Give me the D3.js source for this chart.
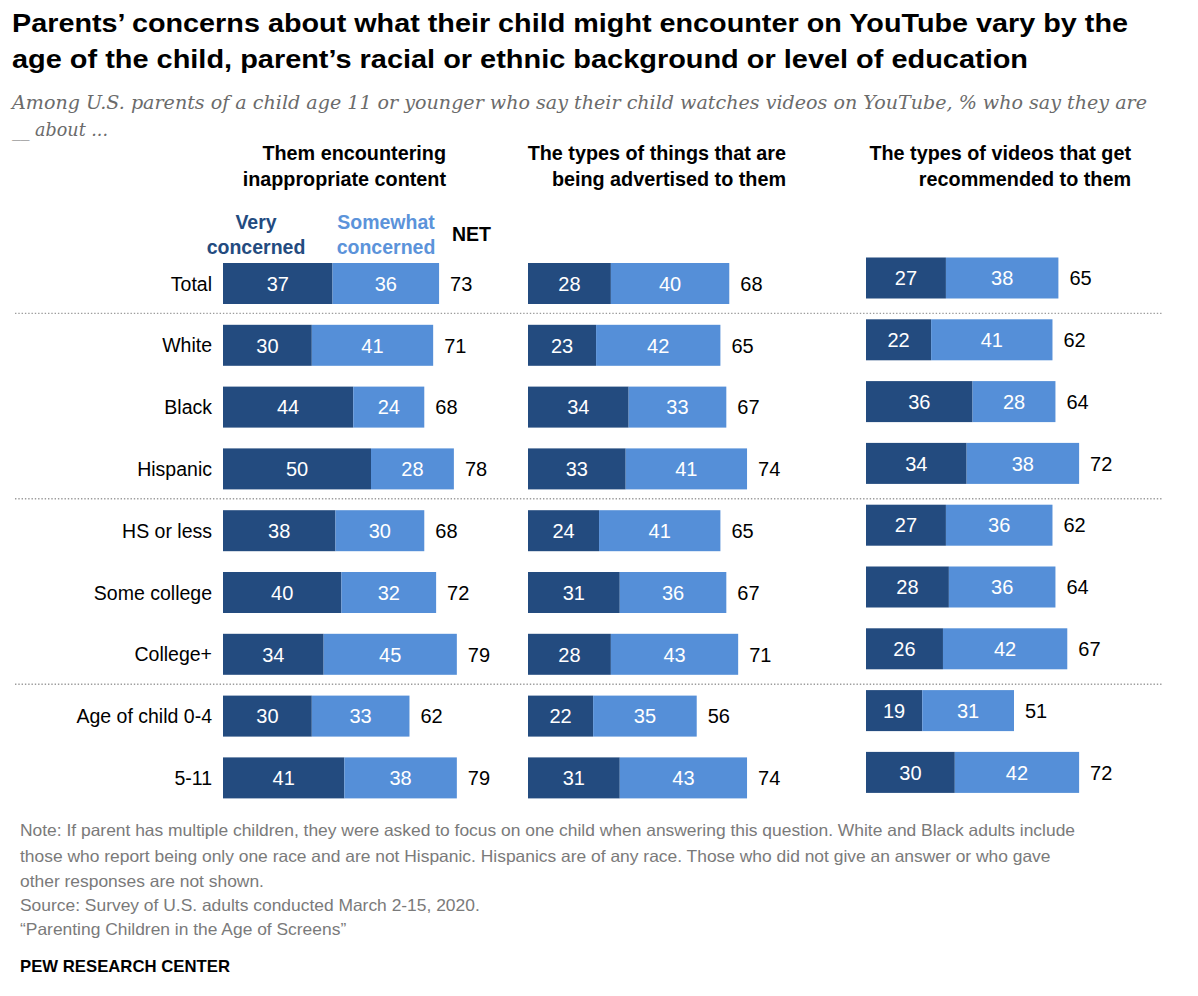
<!DOCTYPE html>
<html>
<head>
<meta charset="utf-8">
<script src="https://cdn.jsdelivr.net/npm/d3@7"></script>
<style>
  html, body { margin: 0; padding: 0; background: #fff; }
  svg { display: block; }
</style>
</head>
<body>
<div id="chart"></div>
<script>
// ---------------- DATA ----------------
const categories = ["Total", "White", "Black", "Hispanic", "HS or less", "Some college", "College+", "Age of child 0-4", "5-11"];
const separatorsAfter = ["Total", "Hispanic", "College+"];

const inappropriateVery = [37, 30, 44, 50, 38, 40, 34, 30, 41];
const inappropriateSome = [36, 41, 24, 28, 30, 32, 45, 33, 38];
const inappropriateNet  = [73, 71, 68, 78, 68, 72, 79, 62, 79];

const advertisedVery = [28, 23, 34, 33, 24, 31, 28, 22, 31];
const advertisedSome = [40, 42, 33, 41, 41, 36, 43, 35, 43];
const advertisedNet  = [68, 65, 67, 74, 65, 67, 71, 56, 74];

const recommendedVery = [27, 22, 36, 34, 27, 28, 26, 19, 30];
const recommendedSome = [38, 41, 28, 38, 36, 36, 42, 31, 42];
const recommendedNet  = [65, 62, 64, 72, 62, 64, 67, 51, 72];

const panelTitles = [
  ["Them encountering", "inappropriate content"],
  ["The types of things that are", "being advertised to them"],
  ["The types of videos that get", "recommended to them"]
];
const legendLabels = [["Very", "concerned"], ["Somewhat", "concerned"], ["NET"]];

const titleLines = [
  "Parents\u2019 concerns about what their child might encounter on YouTube vary by the",
  "age of the child, parent\u2019s racial or ethnic background or level of education"
];
const subtitleLines = [
  "Among U.S. parents of a child age 11 or younger who say their child watches videos on YouTube, % who say they are",
  "__ about ..."
];
const noteLines = [
  "Note: If parent has multiple children, they were asked to focus on one child when answering this question. White and Black adults include",
  "those who report being only one race and are not Hispanic. Hispanics are of any race. Those who did not give an answer or who gave",
  "other responses are not shown.",
  "Source: Survey of U.S. adults conducted March 2-15, 2020.",
  "\u201cParenting Children in the Age of Screens\u201d"
];
const sourceLabel = "PEW RESEARCH CENTER";

// ---------------- STYLE ----------------
const W = 1198, H = 996;
const DARK = "#234b7f", LIGHT = "#558fd8", LIGHT_TEXT = "#5b93da";
const SANS = "'Liberation Sans', Arial, Helvetica, sans-serif";
const SERIF = "Georgia, 'DejaVu Serif', 'Liberation Serif', serif";

const svg = d3.select("#chart").append("svg")
  .attr("width", W).attr("height", H)
  .attr("viewBox", `0 0 ${W} ${H}`);
svg.append("rect").attr("width", W).attr("height", H).attr("fill", "#fff");

function fit(sel, width) {
  sel.attr("textLength", width).attr("lengthAdjust", "spacingAndGlyphs");
}

// ---------------- TITLE ----------------
const titleWidths = [1116, 1016];
titleLines.forEach((t, i) => {
  const tx = svg.append("text")
    .attr("x", 12).attr("y", 32 + i * 36)
    .attr("font-family", SANS).attr("font-weight", "bold")
    .attr("font-size", 26).attr("fill", "#000")
    .text(t);
  fit(tx, titleWidths[i]);
});

// subtitle
subtitleLines.forEach((t, i) => {
  const tx = svg.append("text")
    .attr("x", 12).attr("y", 109 + i * 27)
    .attr("font-family", SERIF).attr("font-style", "italic")
    .attr("font-size", 19).attr("fill", "#6b6b6b")
    .text(t);
  if (i === 0) fit(tx, 1135);
  else fit(tx, 96);
});

// ---------------- SCALES ----------------
const x = d3.scaleLinear().domain([0, 100]).range([0, 296]);
const step = 61.8, bandH = 41;
const pad = 1 - bandH / step;
const yMain = d3.scaleBand().domain(categories)
  .range([263, 263 + step * (categories.length - pad)])
  .paddingInner(pad).paddingOuter(0);
const yRight = d3.scaleBand().domain(categories)
  .range([257.5, 257.5 + step * (categories.length - pad)])
  .paddingInner(pad).paddingOuter(0);

const panels = [
  { x0: 223, titleRight: 446, very: inappropriateVery, some: inappropriateSome, net: inappropriateNet, y: yMain },
  { x0: 528, titleRight: 786, very: advertisedVery, some: advertisedSome, net: advertisedNet, y: yMain },
  { x0: 866, titleRight: 1131, very: recommendedVery, some: recommendedSome, net: recommendedNet, y: yRight }
];

// separators
separatorsAfter.forEach(c => {
  const i = categories.indexOf(c);
  const yy = (yMain(categories[i]) + bandH + yMain(categories[i + 1])) / 2 - 1;
  svg.append("line")
    .attr("x1", 15).attr("x2", 1162)
    .attr("y1", yy).attr("y2", yy)
    .attr("stroke", "#9c9c9c").attr("stroke-width", 1.4)
    .attr("stroke-dasharray", "1.4,1.9");
});

// row labels
svg.append("g").selectAll("text").data(categories).join("text")
  .attr("x", 212)
  .attr("y", d => yMain(d) + bandH / 2)
  .attr("dy", "0.36em")
  .attr("text-anchor", "end")
  .attr("font-family", SANS).attr("font-size", 19.5).attr("fill", "#000")
  .text(d => d);

// panels
panels.forEach((p, pi) => {
  const g = svg.append("g").attr("transform", `translate(${p.x0},0)`);
  const rows = categories.map((c, i) => ({ c, very: p.very[i], some: p.some[i], net: p.net[i] }));

  // title
  panelTitles[pi].forEach((t, li) => {
    svg.append("text")
      .attr("x", p.titleRight).attr("y", 160 + li * 26)
      .attr("text-anchor", "end")
      .attr("font-family", SANS).attr("font-weight", "bold")
      .attr("font-size", 19.8).attr("fill", "#000")
      .text(t);
  });

  g.selectAll("rect.very").data(rows).join("rect")
    .attr("class", "very")
    .attr("x", x(0)).attr("y", d => p.y(d.c))
    .attr("width", d => x(d.very)).attr("height", p.y.bandwidth())
    .attr("fill", DARK);
  g.selectAll("rect.some").data(rows).join("rect")
    .attr("class", "some")
    .attr("x", d => x(d.very)).attr("y", d => p.y(d.c))
    .attr("width", d => x(d.some)).attr("height", p.y.bandwidth())
    .attr("fill", LIGHT);

  g.selectAll("text.vl").data(rows).join("text")
    .attr("class", "vl")
    .attr("x", d => x(d.very / 2)).attr("y", d => p.y(d.c) + bandH / 2)
    .attr("dy", "0.36em").attr("text-anchor", "middle")
    .attr("font-family", SANS).attr("font-size", 20).attr("fill", "#fff")
    .text(d => d.very);
  g.selectAll("text.sl").data(rows).join("text")
    .attr("class", "sl")
    .attr("x", d => x(d.very + d.some / 2)).attr("y", d => p.y(d.c) + bandH / 2)
    .attr("dy", "0.36em").attr("text-anchor", "middle")
    .attr("font-family", SANS).attr("font-size", 20).attr("fill", "#fff")
    .text(d => d.some);
  g.selectAll("text.nl").data(rows).join("text")
    .attr("class", "nl")
    .attr("x", d => x(d.very + d.some) + 11).attr("y", d => p.y(d.c) + bandH / 2)
    .attr("dy", "0.36em").attr("text-anchor", "start")
    .attr("font-family", SANS).attr("font-size", 20).attr("fill", "#000")
    .text(d => d.net);
});

// legend (first panel)
const legendSpecs = [
  { lines: legendLabels[0], cx: 256, anchor: "middle", color: DARK, y0: 229 },
  { lines: legendLabels[1], cx: 386, anchor: "middle", color: LIGHT_TEXT, y0: 229 },
  { lines: legendLabels[2], cx: 452, anchor: "start", color: "#000", y0: 241 }
];
legendSpecs.forEach(s => {
  s.lines.forEach((t, i) => {
    svg.append("text")
      .attr("x", s.cx).attr("y", s.y0 + i * 25)
      .attr("text-anchor", s.anchor)
      .attr("font-family", SANS).attr("font-weight", "bold")
      .attr("font-size", 19.5).attr("fill", s.color)
      .text(t);
  });
});

// ---------------- NOTES ----------------
const noteG = svg.append("g");
const noteTexts = noteLines.map((t, i) => noteG.append("text")
  .attr("x", 20).attr("y", 836 + [0, 26, 51, 75, 99][i])
  .attr("font-family", SANS).attr("font-size", 16.5).attr("fill", "#7a7a7a")
  .text(t));
const nat0 = noteTexts[0].node().getComputedTextLength();
const ratio = 1055 / nat0;
noteTexts.forEach(tx => {
  const w = tx.node().getComputedTextLength();
  fit(tx, w * ratio);
});

const pew = svg.append("text")
  .attr("x", 20).attr("y", 972)
  .attr("font-family", SANS).attr("font-weight", "bold")
  .attr("font-size", 17).attr("fill", "#000")
  .text(sourceLabel);
fit(pew, 210);
</script>
</body>
</html>
